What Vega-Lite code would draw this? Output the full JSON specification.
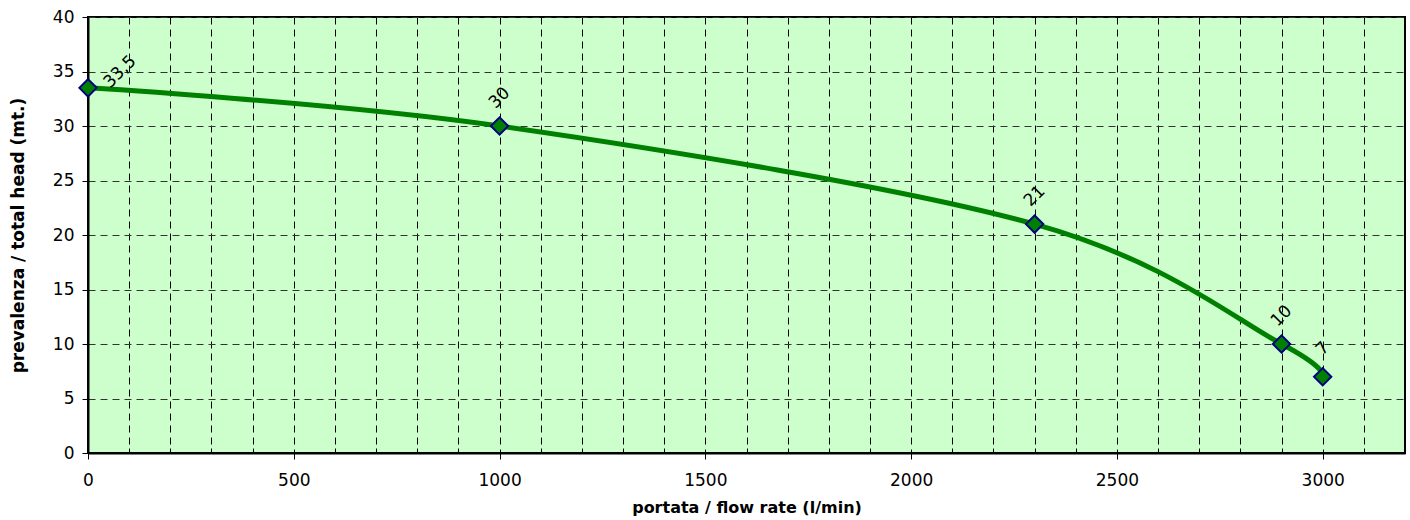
{
  "$schema": "https://vega.github.io/schema/vega-lite/v6.json",
  "width": 1317,
  "height": 436,
  "autosize": {"type": "none"},
  "padding": {"left": 88, "top": 17, "right": 5, "bottom": 67},
  "background": "white",
  "config": {
    "font": "DejaVu Sans",
    "view": {"fill": "#ccffcc", "stroke": "black", "strokeWidth": 2}
  },
  "data": {
    "values": [
      {"portata": 0, "prevalenza": 33.5, "label": "33,5"},
      {"portata": 1000, "prevalenza": 30, "label": "30"},
      {"portata": 2300, "prevalenza": 21, "label": "21"},
      {"portata": 2900, "prevalenza": 10, "label": "10"},
      {"portata": 3000, "prevalenza": 7, "label": "7"}
    ]
  },
  "encoding": {
    "x": {
      "field": "portata",
      "type": "quantitative",
      "scale": {"domain": [0, 3200], "nice": false, "zero": true},
      "axis": {
        "title": "portata / flow rate  (l/min)",
        "titleFontSize": 16,
        "titleFontWeight": "bold",
        "titleColor": "black",
        "titlePadding": 11,
        "values": [0,100,200,300,400,500,600,700,800,900,1000,1100,1200,1300,1400,1500,1600,1700,1800,1900,2000,2100,2200,2300,2400,2500,2600,2700,2800,2900,3000,3100],
        "format": "d",
        "labelExpr": "datum.value % 500 === 0 ? datum.label : ''",
        "labelFlush": false,
        "labelFontSize": 17,
        "labelColor": "black",
        "labelPadding": 13,
        "tickColor": "black",
        "tickSize": {"condition": {"test": "datum.value % 500 === 0", "value": 6}, "value": -5},
        "domainColor": "black",
        "domainWidth": 2,
        "grid": true,
        "gridColor": "black",
        "gridDash": [7, 5],
        "gridWidth": 1,
        "gridOpacity": 1
      }
    },
    "y": {
      "field": "prevalenza",
      "type": "quantitative",
      "scale": {"domain": [0, 40], "nice": false},
      "axis": {
        "title": "prevalenza / total head  (mt.)",
        "titleFontSize": 17,
        "titleFontWeight": "bold",
        "titleColor": "black",
        "titlePadding": 25,
        "values": [0, 5, 10, 15, 20, 25, 30, 35, 40],
        "labelFlush": false,
        "labelFontSize": 17,
        "labelColor": "black",
        "labelPadding": 8,
        "tickColor": "black",
        "tickSize": 6,
        "domainColor": "black",
        "domainWidth": 2,
        "grid": true,
        "gridColor": "#333333",
        "gridDash": [7, 5],
        "gridWidth": 1,
        "gridOpacity": 1,
        "format": "d"
      }
    }
  },
  "layer": [
    {
      "mark": {"type": "line", "color": "#008000", "strokeWidth": 5, "interpolate": "cardinal"}
    },
    {
      "mark": {"type": "point", "shape": "diamond", "size": 300, "filled": true, "fill": "#008000", "stroke": "#000080", "strokeWidth": 2, "opacity": 1}
    },
    {
      "transform": [{"filter": "datum.portata > 0"}],
      "mark": {"type": "text", "angle": -45, "fontSize": 17, "color": "black", "align": "center", "baseline": "middle", "yOffset": -28},
      "encoding": {"text": {"field": "label"}}
    },
    {
      "transform": [{"filter": "datum.portata == 0"}],
      "mark": {"type": "text", "angle": -45, "fontSize": 17, "color": "black", "align": "center", "baseline": "middle", "xOffset": 32, "yOffset": -16},
      "encoding": {"text": {"field": "label"}}
    }
  ]
}
